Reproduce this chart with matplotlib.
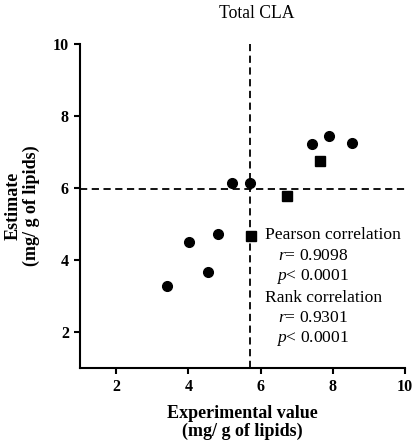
import matplotlib
matplotlib.use("Agg")
import matplotlib.pyplot as plt

plt.rcParams['font.family'] = ['Liberation Serif', 'DejaVu Serif']
plt.rcParams['mathtext.fontset'] = 'custom'
plt.rcParams['mathtext.rm'] = 'Liberation Serif'
plt.rcParams['mathtext.it'] = 'Liberation Serif:italic'

# data
circle_x = [3.41, 4.03, 4.55, 4.83, 5.20, 5.72, 7.43, 7.90, 8.54]
circle_y = [3.28, 4.51, 3.68, 4.73, 6.13, 6.15, 7.21, 7.44, 7.26]
square_x = [5.74, 6.74, 7.65]
square_y = [4.68, 5.78, 6.74]
cut_x = 5.72
cut_y = 5.96
ticks = [2, 4, 6, 8, 10]
stats_lines = ["Pearson correlation", "$r$= 0.9098", "$p$< 0.0001",
               "Rank correlation", "$r$= 0.9301", "$p$< 0.0001"]

fig = plt.figure(figsize=(4.12, 4.48), dpi=100)
ax = fig.add_axes([80 / 412, 80 / 448, 325 / 412, 324 / 448])

ax.plot(circle_x, circle_y, 'o', color='black', ms=7, zorder=3)
ax.plot(square_x, square_y, 's', color='black', ms=6.5, zorder=3)
ax.axvline(cut_x, color='black', ls=(0, (4, 2.5)), lw=1.3, zorder=2)
ax.axhline(cut_y, color='black', ls=(0, (4, 2.5)), lw=1.3, zorder=2)

ax.set_xlim(1, 10)
ax.set_ylim(1, 10)
ax.set_xticks(ticks)
ax.set_yticks(ticks)
ax.set_xticklabels([str(t) for t in ticks], fontweight='bold')
ax.set_yticklabels([str(t) for t in ticks], fontweight='bold')
ax.tick_params(direction='out', length=4, width=1.5, labelsize=11.5, pad=4)
ax.spines['top'].set_visible(False)
ax.spines['right'].set_visible(False)
for s in ['left', 'bottom']:
    ax.spines[s].set_linewidth(1.5)

ax.set_xlabel("Experimental value\n(mg/ g of lipids)", fontsize=13,
              fontweight='bold', labelpad=7, linespacing=1.1)
ax.set_ylabel("Estimate\n(mg/ g of lipids)", fontsize=13,
              fontweight='bold', labelpad=9, linespacing=1.1)

# correlation text block
xs = [6.13, 6.47, 6.44, 6.13, 6.47, 6.44]
ys = [4.69, 4.12, 3.54, 2.95, 2.39, 1.81]
for tx, ty, s in zip(xs, ys, stats_lines):
    ax.text(tx, ty, s, fontsize=12.6, ha='left', va='center')

fig.text(257 / 412, 1 - 14 / 448, "Total CLA", fontsize=12.7, ha='center', va='center')

fig.savefig("out.png", dpi=100)
